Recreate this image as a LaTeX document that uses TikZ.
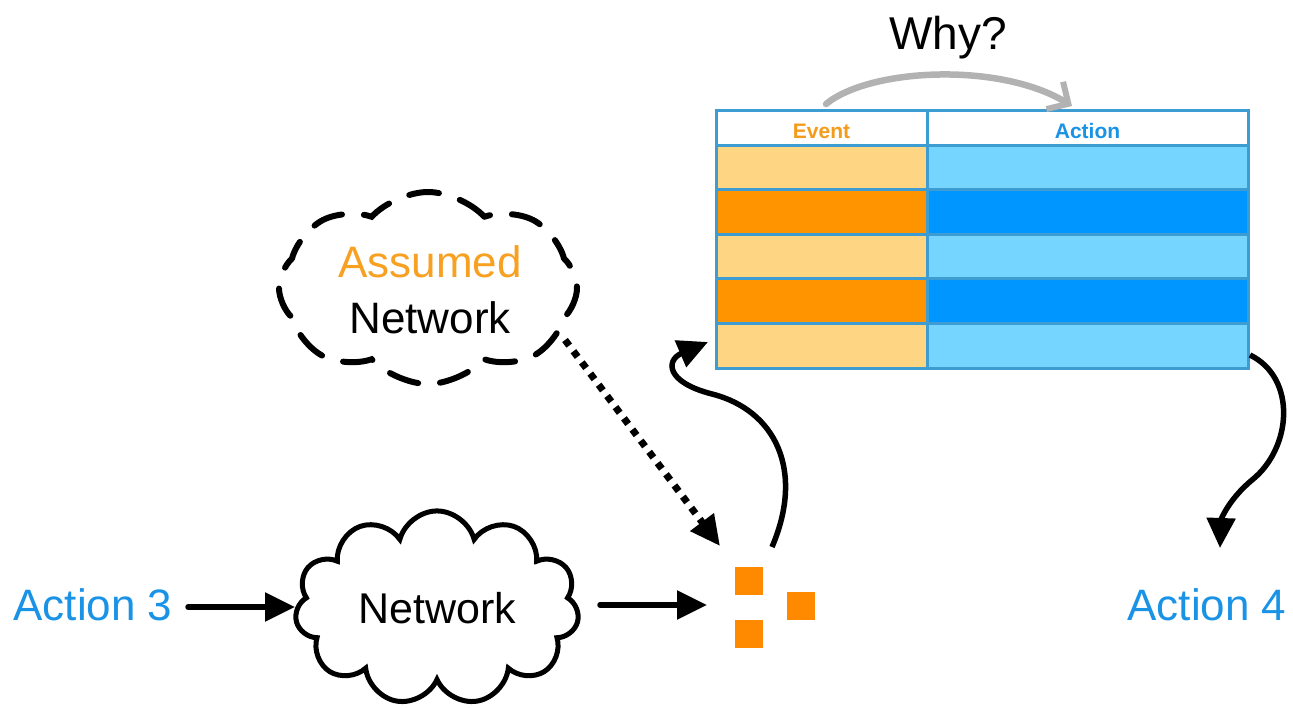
\documentclass[tikz,border=0pt]{standalone}
\usepackage{fontspec}
\setmainfont{Liberation Sans}
\usetikzlibrary{arrows.meta,shapes.symbols,calc}
\definecolor{lorange}{HTML}{FDD583}
\definecolor{dorange}{HTML}{FF9300}
\definecolor{lblue}{HTML}{76D5FE}
\definecolor{dblue}{HTML}{0096FF}
\definecolor{tborder}{HTML}{3D9CD2}
\definecolor{evtxt}{HTML}{F59B1C}
\definecolor{actxt}{HTML}{1A93E6}
\definecolor{sqor}{HTML}{FF8A00}
\definecolor{asor}{HTML}{F7A021}
\begin{document}
\begin{tikzpicture}[x=1pt,y=-1pt,
  cell/.style={draw=tborder,line width=3pt,inner sep=0pt,outer sep=0pt},
  ecell/.style={cell,minimum width=211pt},
  acell/.style={cell,minimum width=321pt},
  rowc/.style={minimum height=44.6pt},
  hdrtxt/.style={font=\fontsize{21}{24}\selectfont\bfseries},
  big/.style={font=\fontsize{44}{50}\selectfont},
  arr/.style={line width=5.5pt,-{Triangle[length=30pt,width=28pt]}},
  sq/.style={fill=sqor,minimum size=28pt,inner sep=0pt}]
\useasboundingbox (0,0) rectangle (1293,707);

% table
\node[ecell,minimum height=35pt,fill=white] (eh) at (821.5,127.5) {};
\node[acell,minimum height=35pt,fill=white] (ah) at (1087.5,127.5) {};
\node[hdrtxt,text=evtxt] (evt) at (821.5,131) {Event};
\node[hdrtxt,text=actxt] (act) at (1087.5,131) {Action};
\node[ecell,rowc,fill=lorange] (e1) at (821.5,167.3) {};
\node[acell,rowc,fill=lblue] (a1) at (1087.5,167.3) {};
\node[ecell,rowc,fill=dorange] (e2) at (821.5,211.9) {};
\node[acell,rowc,fill=dblue] (a2) at (1087.5,211.9) {};
\node[ecell,rowc,fill=lorange] (e3) at (821.5,256.5) {};
\node[acell,rowc,fill=lblue] (a3r) at (1087.5,256.5) {};
\node[ecell,rowc,fill=dorange] (e4) at (821.5,301.1) {};
\node[acell,rowc,fill=dblue] (a4r) at (1087.5,301.1) {};
\node[ecell,rowc,fill=lorange] (e5) at (821.5,345.7) {};
\node[acell,rowc,fill=lblue] (a5) at (1087.5,345.7) {};

% Why?
\node[font=\fontsize{46}{52}\selectfont] (why) at (948,38) {Why?};
\coordinate (wa) at (826,104);
\coordinate (wb) at (1072,106);
\draw[gray!60,line width=6.5pt,line cap=round,-{Straight Barb[length=16pt,width=32pt,line width=6pt]}]
  (wa) .. controls (870,68) and (1000,62) .. (wb);

% assumed network cloud
\node[cloud,cloud puffs=8,cloud puff arc=95,aspect=1.55,minimum width=298pt,minimum height=192pt,
  draw,line width=6pt,dash pattern=on 30pt off 22pt,line cap=round] (anet) at (428,288) {};
\node[big,text=asor] (assumed) at (430,262) {Assumed};
\node[big] (anettxt) at (430,318) {Network};

% network cloud
\node[cloud,cloud puffs=11,aspect=1.55,minimum width=284pt,minimum height=182pt,
  draw,line width=5pt,font=\fontsize{43}{50}\selectfont] (net) at (437,608) {Network};

% actions
\node[big,text=actxt] (act3) at (93,605) {Action 3};
\node[big,text=actxt] (act4) at (1207,605) {Action 4};

% squares
\node[sq] (sq1) at (749,581) {};
\node[sq] (sq2) at (801,606) {};
\node[sq] (sq3) at (749,634) {};

% connectors
\coordinate (n3in) at (295,607);
\coordinate (sqin) at (707,605);
\draw[arr,line cap=round] (act3.east) ++(12,2) -- (n3in);
\draw[arr,line cap=round] (600,605) coordinate (nout) -- (sqin);

\coordinate (dstart) at (565,340);
\coordinate (dend) at (720,546);
\draw[line width=7pt,dash pattern=on 7pt off 7pt,-{Triangle[length=30pt,width=28pt]}] (dstart) -- (dend);

\coordinate (upstart) at (772,547);
\coordinate (uptip) at (708,342);
\draw[arr] (upstart) .. controls (805,470) and (775,410) .. (712,394)
  .. controls (665,382) and (666,360) .. (uptip);

\coordinate (rstart) at (1250,355);
\coordinate (rtip) at (1220,548);
\draw[arr] (rstart) .. controls (1297,378) and (1292,448) .. (1252,480)
  .. controls (1228,500) and (1221,520) .. (rtip);
\end{tikzpicture}
\end{document}
